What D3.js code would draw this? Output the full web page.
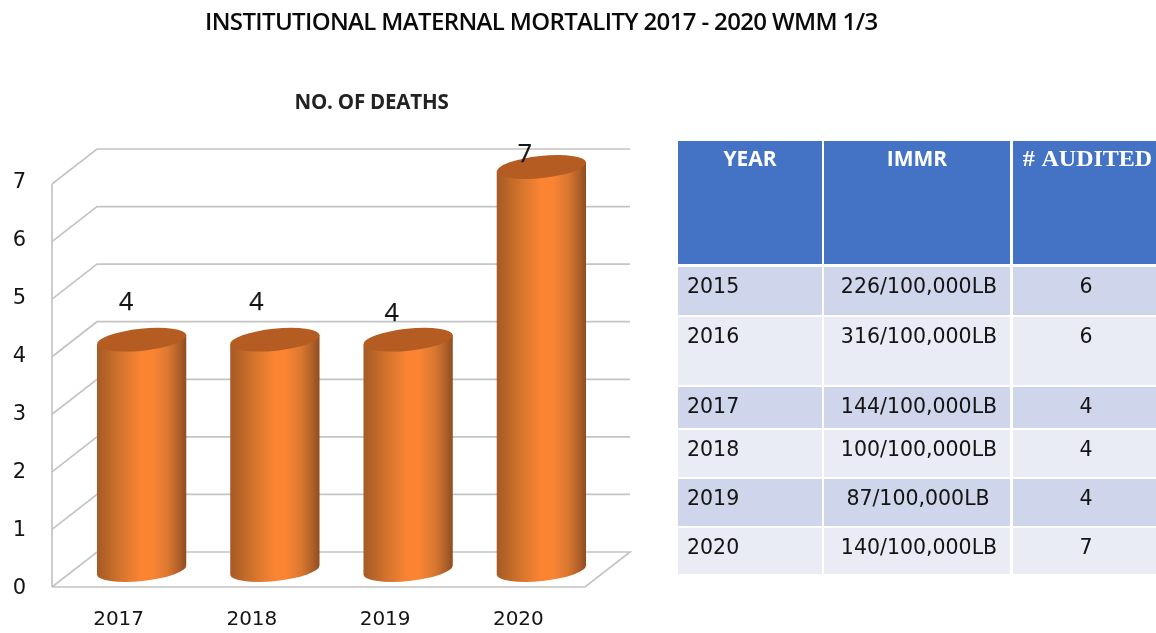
<!DOCTYPE html>
<html><head><meta charset="utf-8">
<script src="https://cdnjs.cloudflare.com/ajax/libs/d3/7.8.5/d3.min.js"></script>
<style>
html,body{margin:0;padding:0;background:#fff;overflow:hidden}
svg{display:block;filter:blur(0.6px)}
</style></head><body>
<svg id="c" width="1156" height="633"></svg>
<script>
const titleText = "INSTITUTIONAL MATERNAL MORTALITY 2017 - 2020 WMM 1/3";
const chartTitle = "NO. OF DEATHS";
const years = ["2017","2018","2019","2020"];
const deaths = [4,4,4,7];
const yTicks = [0,1,2,3,4,5,6,7];
const tableHeader = ["YEAR","IMMR","# AUDITED"];
const tableYears = ["2015","2016","2017","2018","2019","2020"];
const tableImmr = ["226/100,000LB","316/100,000LB","144/100,000LB","100/100,000LB","87/100,000LB","140/100,000LB"];
const tableAudited = [6,6,4,4,4,7];

const svg = d3.select("#c");
const DX = 45, DY = 35;           // depth of the 3-D box
const y = d3.scaleLinear().domain([0,7]).range([552,149]);   // on the back wall
const yLabel = d3.scaleLinear().domain([0,7]).range([586,180]);
const x = d3.scaleBand().domain(years).range([52,585]).paddingInner(0.33).paddingOuter(0.165);
const bx = 23, by = 18;           // cylinders sit mid-depth
const ink = "#141414";

svg.append("text").attr("x",205).attr("y",30).text(titleText)
  .attr("font-family","Open Sans").attr("font-weight",600).attr("font-size",24)
  .attr("letter-spacing",-0.64).attr("fill","#0a0a0a");
svg.append("text").attr("x",371.5).attr("y",109).attr("text-anchor","middle").text(chartTitle)
  .attr("font-family","Open Sans").attr("font-weight",700).attr("font-size",20.5)
  .attr("letter-spacing",-0.2).attr("fill","#222");

// box
const gridCol = "#c4c4c4";
const grid = svg.append("g").attr("fill","none").attr("stroke",gridCol).attr("stroke-width",1.7);
grid.append("path").attr("d",d3.line()([[52,y(0)+DY],[585,y(0)+DY],[630,y(0)],[97,y(0)],[52,y(0)+DY]]));
grid.selectAll(".h").data(yTicks.slice(1)).join("path").attr("class","h")
  .attr("d",d=>d3.line()([[52,y(d)+DY],[97,y(d)],[630,y(d)]]));
grid.append("line").attr("x1",52).attr("x2",52).attr("y1",y(7)+DY).attr("y2",y(0)+DY);

// gradient
const defs = svg.append("defs");
const grad = defs.append("linearGradient").attr("id","cyl").attr("x1",0).attr("x2",1).attr("y1",0).attr("y2",0);
[[0,"#a65a26"],[0.14,"#bd6829"],[0.3,"#da772e"],[0.5,"#fb8433"],[0.62,"#fb8433"],[0.8,"#d87730"],[0.92,"#b0602a"],[1,"#8e4d1f"]]
  .forEach(s=>grad.append("stop").attr("offset",s[0]).attr("stop-color",s[1]));

// cylinders
const tilt = 6*Math.PI/180, ry = 11;
const cyl = svg.append("g");
years.forEach((yr,i)=>{
  const rx = x.bandwidth()/2/Math.cos(tilt);
  const cx = x(yr)+bx+x.bandwidth()/2, top = y(deaths[i])+by, bot = y(0)+by;
  const ex = rx*Math.cos(tilt), ey = rx*Math.sin(tilt);
  cyl.append("path").attr("fill","url(#cyl)")
    .attr("d",`M${cx-ex},${top+ey}L${cx-ex},${bot+ey}A${rx},${ry} -6 0 0 ${cx+ex},${bot-ey}L${cx+ex},${top-ey}Z`);
  cyl.append("ellipse").attr("fill","#b45c22").attr("cx",0).attr("cy",0)
    .attr("rx",rx).attr("ry",ry)
    .attr("transform",`translate(${cx},${top}) rotate(-6)`);
});

// data labels
const labelNudge = [[-15.5,-30],[-18.5,-30],[-16.5,-19],[-16.5,-5.5]];
svg.append("g").selectAll("text").data(deaths).join("text")
  .attr("x",(d,i)=>x(years[i])+bx+x.bandwidth()/2+labelNudge[i][0])
  .attr("y",(d,i)=>y(d)+by+labelNudge[i][1])
  .attr("text-anchor","middle").attr("font-family","Open Sans").attr("font-size",25)
  .attr("fill",ink).attr("stroke",ink).attr("stroke-width",0.25).text(d=>d);

// axes
const axL = svg.append("g").attr("transform","translate(26,0)")
  .call(d3.axisLeft(yLabel).tickValues(yTicks).tickSize(0).tickPadding(0).tickFormat(d3.format("d")));
axL.select(".domain").remove();
axL.selectAll("text").attr("font-family","DejaVu Sans").attr("font-size",21).attr("fill",ink).attr("dy","0.36em");
const axB = svg.append("g").attr("transform","translate(0,618)")
  .call(d3.axisBottom(x).tickSize(0).tickPadding(0));
axB.select(".domain").remove();
axB.selectAll("text").attr("font-family","DejaVu Sans").attr("font-size",20).attr("fill",ink).attr("dy","0.36em");

// table
const colEdges = [[678,822],[824,1010],[1013,1156]];
const rowEdges = [[267,315],[317,385],[387,428],[430,477],[479,526],[528,574]];
const headRow = [141,264];
const tb = svg.append("g");
tableHeader.forEach((h,j)=>{
  const c = colEdges[j];
  tb.append("rect").attr("x",c[0]).attr("y",headRow[0]).attr("width",c[1]-c[0]).attr("height",headRow[1]-headRow[0]).attr("fill","#4472c4");
  const serif = j===2;
  tb.append("text").attr("x",serif?1087.5:(c[0]+c[1])/2).attr("y",166).attr("text-anchor","middle").text(h)
    .attr("fill","#fff").attr("font-weight",700).attr("word-spacing",serif?2:0)
    .attr("font-family",serif?"Liberation Serif":"Open Sans").attr("font-size",serif?24:21);
});
tableYears.forEach((yr,i)=>{
  const r = rowEdges[i], fill = i%2===0 ? "#cfd5ea" : "#e9ebf5";
  colEdges.forEach(c=>tb.append("rect").attr("x",c[0]).attr("y",r[0]).attr("width",c[1]-c[0]).attr("height",r[1]-r[0]).attr("fill",fill));
  const ty = r[0]+25.5;
  const t = (xx,a,s)=>tb.append("text").attr("x",xx).attr("y",ty).attr("text-anchor",a).text(s)
     .attr("font-family","DejaVu Sans").attr("font-size",20.5).attr("fill",ink);
  t(687,"start",yr);
  t(i===4?918:919,"middle",tableImmr[i]);
  t(1086,"middle",tableAudited[i]);
});
</script></body></html>
